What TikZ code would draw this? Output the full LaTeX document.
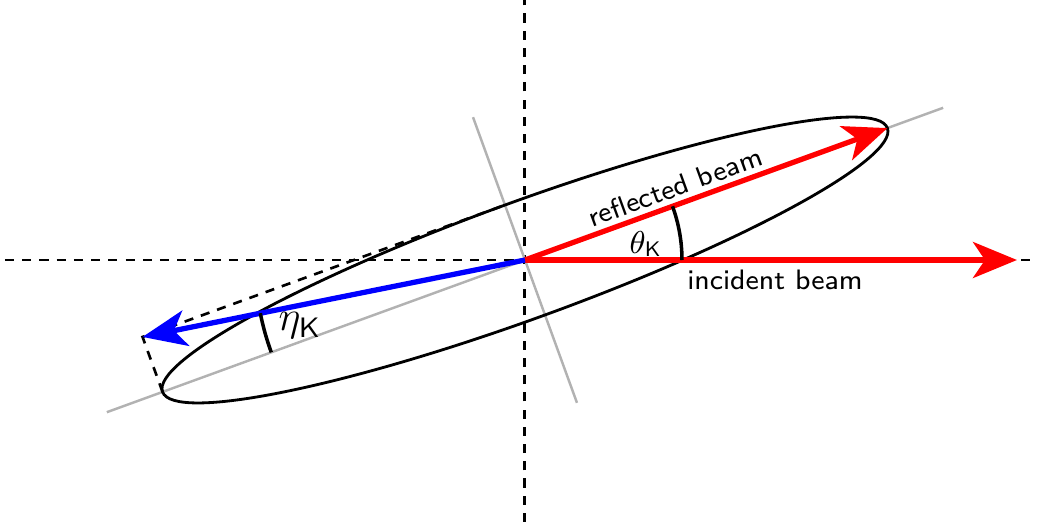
\documentclass[tikz,border=0pt]{standalone}
\usepackage{amsmath,amssymb}
\usetikzlibrary{calc,arrows.meta,positioning}

\begin{document}
\begin{tikzpicture}[
    every node/.style={font=\sffamily\footnotesize},
    axis/.style={black, line width=0.85pt, dash pattern=on 2.6pt off 2.3pt},
    guide/.style={black!30, line width=0.7pt},
    beam/.style={-{Stealth[length=4.4mm, width=3.6mm, inset=1.2mm]}, line width=1.5pt},
    construct/.style={black, line width=0.75pt, dash pattern=on 2.6pt off 2.3pt},
    anglearc/.style={black, line width=1pt},
]
\useasboundingbox (-5.25,-2.62) rectangle (5.13,2.60);

\coordinate (O) at (0,0);
\coordinate (west) at (-5.20,0);
\coordinate (east) at (5.13,0);
\coordinate (south) at (0,-2.62);
\coordinate (north) at (0,2.60);
\coordinate (majA) at (200:4.45);
\coordinate (majB) at (20:4.45);
\coordinate (minA) at (110:1.52);
\coordinate (minB) at (-70:1.52);
\coordinate (tipR) at (20:3.857);
\coordinate (tipL) at (200:3.857);
\coordinate (vertex) at (110:0.585);
\coordinate (inc) at (4.92,0);
\coordinate (kerr) at ($(tipL)+(vertex)$);

% axes
\draw[axis] (west) -- (east);
\draw[axis] (south) -- (north);

% polarisation ellipse and its axes
\draw[guide] (majA) -- (majB);
\draw[guide] (minA) -- (minB);
\draw[black, line width=0.8pt, rotate=20] (O) ellipse (3.857 and 0.585);

% construction of the Kerr vector
\draw[construct] (tipL) -- (kerr) -- (vertex);

% beams
\draw[beam, red] (O) -- (inc);
\draw[beam, red] (O) -- (tipR);
\draw[beam, blue] (O) -- (kerr);

% angles
\draw[anglearc] (1.57,0) arc (0:20:1.57);
\draw[anglearc] (191.37:2.7) arc (191.37:200:2.7);

\node (theta) at (1.21,0.16) {\small$\theta_{\mathsf{K}}$};
\node (eta) at (-2.25,-0.66) {\large$\eta_{\mathsf{K}}$};
\node[rotate=20, inner sep=1pt] (refl) at (1.50,0.73) {reflected beam};
\node (incl) at (2.50,-0.20) {incident beam};
\end{tikzpicture}
\end{document}
